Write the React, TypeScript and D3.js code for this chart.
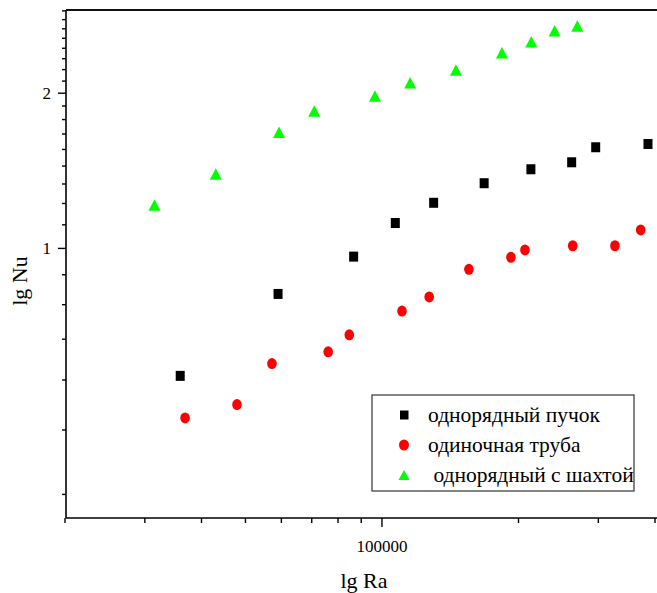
import React, { useEffect, useRef } from 'react';
import * as d3 from 'd3';

// однорядный пучок
const bundleRa = [35900, 59000, 86600, 107000, 130000, 168000, 213000, 262000, 296000, 386000];
const bundleNu = [0.566, 0.816, 0.964, 1.12, 1.226, 1.338, 1.424, 1.469, 1.571, 1.594];
// одиночная труба
const tubeRa = [36800, 47900, 57200, 76100, 84700, 110700, 127100, 155500, 192500, 206700, 263400, 326400, 372000];
const tubeNu = [0.469, 0.498, 0.598, 0.63, 0.68, 0.756, 0.805, 0.911, 0.961, 0.993, 1.012, 1.012, 1.086];
// однорядный с шахтой
const shaftRa = [31500, 43000, 59300, 70900, 96500, 115400, 145600, 183900, 213400, 240300, 269600];
const shaftNu = [1.214, 1.394, 1.68, 1.847, 1.976, 2.096, 2.218, 2.397, 2.517, 2.644, 2.7];

const legendLabels = ['однорядный пучок', 'одиночная труба', ' однорядный с шахтой'];
const xMajorTicks = [100000];
const xMinorTicks = [20000, 30000, 40000, 50000, 60000, 70000, 80000, 90000, 200000, 300000, 400000];
const yMajorTicks = [1, 2];
const xTitle = 'lg Ra';
const yTitle = 'lg Nu';

const W = 657;
const H = 593;
const FONT = '"Liberation Serif", "Times New Roman", serif';

export default function App() {
  const ref = useRef<SVGSVGElement>(null);

  useEffect(() => {
    const svg = d3.select(ref.current);
    svg.selectAll('*').remove();

    const left = 66, top = 10, bottom = 518;
    const x = d3.scaleLog().domain([20000, 400000]).range([65, 655]);
    const y = d3.scaleLog().domain([0.3, 2.9]).range([bottom, top]);

    // minor y ticks every 1/9 as in the original
    const yMinorTicks = d3.range(3, 27).filter((k) => k % 9 !== 0).map((k) => k / 9);

    const g = svg.append('g');

    // frame: left, bottom, top
    g.append('line').attr('x1', left).attr('x2', left).attr('y1', top).attr('y2', bottom)
      .attr('stroke', '#000').attr('stroke-width', 1.6);
    g.append('line').attr('x1', left).attr('x2', W).attr('y1', bottom).attr('y2', bottom)
      .attr('stroke', '#000').attr('stroke-width', 1.6);
    g.append('line').attr('x1', left).attr('x2', W).attr('y1', top).attr('y2', top)
      .attr('stroke', '#111').attr('stroke-width', 1.8);

    // y ticks
    g.selectAll('.ymaj').data(yMajorTicks).enter().append('line')
      .attr('x1', left - 8).attr('x2', left).attr('y1', (d) => y(d)).attr('y2', (d) => y(d))
      .attr('stroke', '#000').attr('stroke-width', 1.4);
    g.selectAll('.ymin').data(yMinorTicks).enter().append('line')
      .attr('x1', left - 4).attr('x2', left).attr('y1', (d) => y(d)).attr('y2', (d) => y(d))
      .attr('stroke', '#000').attr('stroke-width', 1.4);
    g.selectAll('.ylab').data(yMajorTicks).enter().append('text')
      .attr('x', 51).attr('y', (d) => y(d)).attr('dy', '0.35em')
      .attr('text-anchor', 'end').attr('font-family', FONT).attr('font-size', 17)
      .text((d) => String(d));

    // x ticks
    g.selectAll('.xmaj').data(xMajorTicks).enter().append('line')
      .attr('x1', (d) => x(d)).attr('x2', (d) => x(d)).attr('y1', bottom).attr('y2', bottom + 9)
      .attr('stroke', '#000').attr('stroke-width', 1.4);
    g.selectAll('.xmin').data(xMinorTicks).enter().append('line')
      .attr('x1', (d) => x(d)).attr('x2', (d) => x(d)).attr('y1', bottom).attr('y2', bottom + 5)
      .attr('stroke', '#000').attr('stroke-width', 1.4);
    g.selectAll('.xlab').data(xMajorTicks).enter().append('text')
      .attr('x', (d) => x(d)).attr('y', 552)
      .attr('text-anchor', 'middle').attr('font-family', FONT).attr('font-size', 17)
      .text((d) => String(d));

    // axis titles
    g.append('text').attr('x', 364).attr('y', 588).attr('text-anchor', 'middle')
      .attr('font-family', FONT).attr('font-size', 22).text(xTitle);
    g.append('text').attr('transform', 'translate(27,281) rotate(-90)').attr('text-anchor', 'middle')
      .attr('font-family', FONT).attr('font-size', 22).text(yTitle);

    // data
    const pts = (ra: number[], nu: number[]) => ra.map((r, i) => [x(r), y(nu[i])]);

    g.append('g').selectAll('rect').data(pts(bundleRa, bundleNu)).enter().append('rect')
      .attr('x', (d) => d[0] - 4.5).attr('y', (d) => d[1] - 5).attr('width', 9).attr('height', 10)
      .attr('fill', '#000');

    g.append('g').selectAll('ellipse').data(pts(tubeRa, tubeNu)).enter().append('ellipse')
      .attr('cx', (d) => d[0]).attr('cy', (d) => d[1]).attr('rx', 4.8).attr('ry', 5.5)
      .attr('fill', '#ff0000');

    const tri = (cx: number, cy: number, w: number, h: number) =>
      `M${cx},${cy - h / 2}L${cx + w / 2},${cy + h / 2}L${cx - w / 2},${cy + h / 2}Z`;
    g.append('g').selectAll('path').data(pts(shaftRa, shaftNu)).enter().append('path')
      .attr('d', (d) => tri(d[0], d[1], 12, 11.5))
      .attr('fill', '#00ff00');

    // legend
    const lg = g.append('g');
    lg.append('rect').attr('x', 372).attr('y', 395).attr('width', 262).attr('height', 96)
      .attr('fill', '#fff').attr('stroke', '#333').attr('stroke-width', 1.2);
    const rows = [415, 445, 475];
    lg.append('rect').attr('x', 400).attr('y', rows[0] - 4.5).attr('width', 8.5).attr('height', 9).attr('fill', '#000');
    lg.append('ellipse').attr('cx', 404).attr('cy', rows[1]).attr('rx', 5).attr('ry', 5.5).attr('fill', '#ff0000');
    lg.append('path').attr('d', tri(404, rows[2], 11, 10)).attr('fill', '#00ff00');
    lg.selectAll('text').data(legendLabels).enter().append('text')
      .attr('x', 428).attr('y', (d, i) => rows[i] + 6.5)
      .attr('font-family', FONT).attr('font-size', 21.5)
      .style('white-space', 'pre')
      .text((d) => d);
  }, []);

  return (
    <svg ref={ref} width={W} height={H}
      style={{ position: 'absolute', left: 0, top: 0, background: '#fff' }} />
  );
}
